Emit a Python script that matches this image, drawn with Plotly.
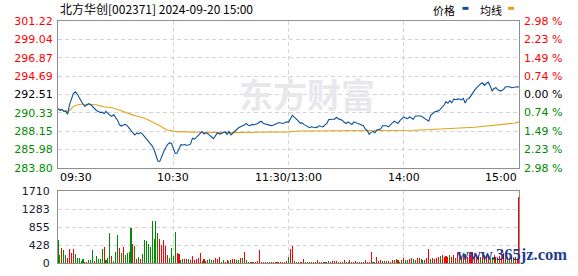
import plotly.graph_objects as go

prev_close = 292.51

price = [
    290.79, 290.62, 290.72, 290.48, 290.55, 290.14, 291.30, 292.05, 292.60, 292.81,
    292.55, 292.15, 291.70, 291.37, 291.10, 291.25, 291.40, 291.30, 291.05, 290.79,
    290.60, 290.49, 290.35, 290.40, 290.21, 290.49, 290.25, 290.02, 289.90, 290.10,
    289.75, 289.45, 288.90, 288.75, 288.87, 288.95, 288.80, 288.47, 288.15, 287.95,
    287.70, 287.90, 287.85, 287.97, 287.80, 287.51, 287.15, 286.93, 286.70, 286.40,
    285.97, 285.35, 284.60, 284.55, 285.20, 285.70, 286.15, 286.55, 286.75, 286.70,
    286.15, 285.50, 285.55, 286.10, 286.55, 286.50, 286.55, 286.45, 286.55, 286.60,
    287.31, 287.20, 287.40, 287.60, 287.80, 288.09, 287.80, 287.95, 287.85, 287.70,
    287.45, 287.24, 287.60, 287.97, 287.80, 287.85, 288.00, 288.09, 287.75, 288.09,
    287.70, 287.90, 288.17, 288.40, 288.55, 288.66, 288.75, 288.87, 289.06, 288.85,
    288.80, 288.95, 288.90, 288.95, 289.05, 289.25, 289.30, 289.05, 289.00, 288.90,
    288.87, 288.80, 288.85, 289.00, 289.06, 289.17, 289.10, 289.06, 289.15, 289.25,
    289.20, 289.55, 290.02, 289.80, 289.63, 289.40, 289.10, 289.13, 288.95, 288.78,
    288.65, 288.55, 288.66, 288.60, 288.55, 288.62, 288.78, 288.70, 288.66, 288.90,
    289.10, 289.52, 289.50, 289.56, 289.56, 289.79, 289.60, 289.56, 289.44, 289.20,
    289.05, 289.25, 289.10, 288.94, 289.25, 289.15, 289.06, 288.94, 288.90, 288.78,
    288.40, 288.20, 287.77, 288.00, 288.10, 287.95, 288.28, 288.35, 288.40, 288.78,
    288.75, 288.78, 288.66, 288.85, 289.10, 289.33, 289.20, 289.06, 289.40, 289.60,
    289.83, 289.70, 289.63, 289.83, 289.70, 289.56, 289.94, 289.90, 289.94, 289.94,
    289.80, 289.56, 289.45, 289.33, 290.02, 290.25, 290.41, 290.49, 290.55, 290.72,
    290.95, 291.25, 291.64, 291.45, 291.76, 291.50, 291.95, 291.90, 291.95, 291.95,
    291.85, 292.03, 291.49, 291.95, 292.03, 292.40, 292.73, 293.04, 293.30, 293.57,
    293.75, 293.88, 293.57, 293.80, 293.96, 293.50, 292.92, 293.20, 293.30, 293.05,
    292.92, 292.95, 293.10, 293.42, 293.40, 293.42, 293.30, 293.35, 293.35, 293.42,
    293.38,
]

avg_price = [
    290.79, 290.70, 290.65, 290.60, 290.55, 290.49, 290.60, 290.85, 291.05, 291.20,
    291.27, 291.30, 291.33, 291.33, 291.33, 291.33, 291.32, 291.32, 291.31, 291.30,
    291.28, 291.20, 291.12, 291.08, 291.05, 291.02, 291.00, 290.99, 290.93, 290.86,
    290.80, 290.72, 290.62, 290.55, 290.49, 290.40, 290.30, 290.22, 290.12, 290.05,
    290.00, 289.95, 289.90, 289.85, 289.78, 289.68, 289.58, 289.48, 289.38, 289.28,
    289.15, 289.02, 288.90, 288.78, 288.62, 288.46, 288.36, 288.28, 288.22, 288.18,
    288.12, 288.10, 288.09, 288.08, 288.07, 288.06, 288.05, 288.03, 288.01, 287.99,
    287.98, 287.98, 287.98, 287.98, 287.98, 287.98, 287.98, 287.98, 287.98, 287.98,
    287.97, 287.97, 287.97, 287.97, 287.97, 287.97, 287.97, 287.97, 287.97, 287.97,
    287.97, 287.97, 287.97, 287.97, 287.98, 287.98, 287.98, 287.98, 287.99, 287.99,
    287.99, 288.00, 288.00, 288.00, 288.01, 288.01, 288.02, 288.02, 288.02, 288.03,
    288.03, 288.03, 288.04, 288.04, 288.04, 288.05, 288.05, 288.05, 288.06, 288.06,
    288.06, 288.08, 288.11, 288.13, 288.14, 288.15, 288.16, 288.16, 288.16, 288.16,
    288.16, 288.16, 288.16, 288.16, 288.16, 288.16, 288.16, 288.16, 288.16, 288.16,
    288.17, 288.17, 288.17, 288.17, 288.17, 288.17, 288.17, 288.17, 288.17, 288.17,
    288.17, 288.17, 288.17, 288.17, 288.17, 288.17, 288.17, 288.17, 288.17, 288.17,
    288.17, 288.17, 288.17, 288.17, 288.17, 288.17, 288.17, 288.17, 288.17, 288.17,
    288.17, 288.17, 288.18, 288.18, 288.19, 288.19, 288.20, 288.20, 288.21, 288.21,
    288.22, 288.22, 288.23, 288.23, 288.24, 288.25, 288.26, 288.27, 288.28, 288.28,
    288.29, 288.29, 288.30, 288.30, 288.31, 288.32, 288.33, 288.34, 288.35, 288.36,
    288.37, 288.38, 288.40, 288.41, 288.42, 288.44, 288.45, 288.46, 288.48, 288.49,
    288.50, 288.52, 288.53, 288.54, 288.55, 288.57, 288.59, 288.61, 288.63, 288.65,
    288.67, 288.69, 288.72, 288.75, 288.78, 288.80, 288.83, 288.86, 288.89, 288.92,
    288.94, 288.96, 288.98, 289.00, 289.02, 289.04, 289.06, 289.08, 289.11, 289.14,
    289.25,
]

volume = [
    554, 192, 346, 300, 192, 115, 323, 231, 323, 208,
    115, 115, 54, 92, 23, 23, 69, 69, 300, 54,
    161, 85, 100, 323, 369, 77, 115, 716, 161, 54,
    254, 670, 346, 231, 369, 192, 231, 254, 831, 447,
    416, 92, 138, 92, 208, 554, 531, 462, 369, 993,
    577, 993, 716, 577, 439, 554, 393, 192, 115, 346,
    161, 739, 231, 208, 69, 92, 92, 92, 92, 69,
    161, 69, 92, 115, 231, 54, 92, 38, 69, 92,
    69, 69, 115, 92, 138, 23, 69, 23, 69, 38,
    69,
    92, 92, 77, 62, 108, 115, 270, 77, 31, 31,
    31, 31, 23, 46, 300, 31, 23, 31, 23, 31,
    23, 23, 31, 23, 23, 31, 23, 31, 38, 154,
    323, 408, 38, 23, 23, 31, 23, 92, 23, 31,
    23, 23, 31, 23, 62, 23, 31, 23, 23, 31,
    46, 23, 46, 46, 46, 31, 23, 31, 77, 23,
    31, 62, 23, 31, 46, 23, 31, 23, 31, 62,
    23, 31, 262, 23, 31, 154, 46, 62, 46, 46,
    38, 46, 31, 77, 77, 92, 62, 31, 77, 108,
    77, 62, 92, 108, 92, 77, 123, 123, 92, 77,
    62, 108, 323, 92, 108, 92, 123, 139, 169, 185,
    154, 169, 139, 185,
    154, 200, 123, 231, 169, 139, 185, 216, 154, 246,
    185, 262, 231, 200, 185, 154, 216, 139, 185, 169,
    123, 154, 200, 139, 123, 169, 154, 231, 185, 139,
    123, 154, 108, 139, 92,
    1580,
]

# r = up minute (red), g = down minute (green)
vol_dir = list(
    "ggrggrrrrg" "ggggrrgggr" "ggggrgggrg" "ggrgrggggr" "grgrgggggg"
    "gggrrrrrgg" "ggrrggrrgr" "rrrrrgrgrg" "ggrrrggrrg" "r"
    "rrggrgrgrr" "grrrrrgrrg" "rrgrrrgrrg"
    "rrgrrgrrgr" "grgrrgrgrg" "grrrrgrgrg"
    "grgrrgrgrr" "grrggrrrgr" "grgrrgrggr"
    "ggrrggrrgg" "rrrgrrrrgr" "rrrg"
    "rrgrrgrgrr" "rrrrrgrgrr" "ggrrgrrrrg" "grgrr"
    "r"
)

price_ticks = [301.22, 299.04, 296.87, 294.69, 292.51, 290.33, 288.15, 285.98, 283.80]
pct_ticks = [2.98, 2.23, 1.49, 0.74, 0.00, -0.74, -1.49, -2.23, -2.98]
vol_ticks = [0, 428, 855, 1283, 1710]
time_pos = [0, 60, 120, 180, 240]
time_labels = ["09:30", "10:30", "11:30/13:00", "14:00", "15:00"]
title_text = "北方华创[002371] 2024-09-20 15:00"

RED = "#ff0000"
GREEN = "#008c00"
BLUE = "#0b4f9f"
GOLD = "#e3a21a"
FONT = "DejaVu Sans"

minutes = list(range(len(price)))
pct = [(p / prev_close - 1) * 100 for p in price]


def col(v, ref):
    if v > ref + 1e-9:
        return RED
    if v < ref - 1e-9:
        return GREEN
    return "#000000"


price_text = ['<span style="color:%s">%.2f</span>' % (col(v, prev_close), v) for v in price_ticks]
pct_text = ['<span style="color:%s">%.2f %%</span>' % (col(v, 0), abs(v)) for v in pct_ticks]
bar_colors = [RED if d == "r" else GREEN for d in vol_dir]

fig = go.Figure()
fig.add_trace(go.Scatter(x=minutes, y=avg_price, mode="lines",
                         line=dict(color=GOLD, width=1.1), xaxis="x", yaxis="y",
                         hoverinfo="skip", showlegend=False))
fig.add_trace(go.Scatter(x=minutes, y=price, mode="lines",
                         line=dict(color=BLUE, width=1.1), xaxis="x", yaxis="y",
                         hoverinfo="skip", showlegend=False))
fig.add_trace(go.Scatter(x=minutes, y=pct, mode="lines",
                         line=dict(color="rgba(0,0,0,0)", width=0), xaxis="x", yaxis="y2",
                         hoverinfo="skip", showlegend=False))
fig.add_trace(go.Bar(x=minutes, y=volume, marker=dict(color=bar_colors, line=dict(width=0)),
                     width=0.55, xaxis="x2", yaxis="y3", hoverinfo="skip", showlegend=False))

W, H = 578, 276
ML, MR, MT, MB = 58, 59, 21, 6
PW = W - ML - MR
PH = H - MT - MB


def py(pix):
    return (H - MB - pix) / PH


def px(pix):
    return (pix - ML) / PW


main_dom = [py(172), 1]
vol_dom = [0, py(196)]

axis_common = dict(showline=True, mirror=True, linecolor="#8f8f8f", linewidth=1,
                   zeroline=False, ticks="", fixedrange=True)
grid = dict(showgrid=True, gridcolor="#d4d4d4", gridwidth=1, griddash="4px,3px")

fig.update_layout(
    width=W, height=H,
    margin=dict(l=ML, r=MR, t=MT, b=MB),
    paper_bgcolor="white", plot_bgcolor="white",
    bargap=0,
    xaxis=dict(domain=[0, 1], range=[0, 240], anchor="y", tickvals=[60, 120, 180],
               showticklabels=False, **grid, **axis_common),
    xaxis2=dict(domain=[0, 1], range=[0, 240], anchor="y3", tickvals=[60, 120, 180],
                showticklabels=False, **grid, **axis_common),
    yaxis=dict(domain=main_dom, range=[price_ticks[-1], price_ticks[0]], anchor="x",
               tickvals=price_ticks, ticktext=price_text,
               tickfont=dict(family=FONT, size=11), ticklabelstandoff=2,
               **grid, **axis_common),
    yaxis2=dict(domain=main_dom, range=[pct_ticks[-1], pct_ticks[0]], overlaying="y",
                side="right", anchor="x", tickvals=pct_ticks, ticktext=pct_text,
                tickfont=dict(family=FONT, size=11), showgrid=False, zeroline=False,
                ticks="", showline=False, ticklabelstandoff=4),
    yaxis3=dict(domain=vol_dom, range=[0, vol_ticks[-1]], anchor="x2",
                tickvals=vol_ticks, tickfont=dict(family=FONT, size=11, color="#1a1a2e"),
                ticklabelstandoff=5, **grid, **axis_common),
)

annotations = []
annotations.append(dict(text=title_text, xref="paper", yref="paper", x=0, y=py(8.5),
                        xanchor="left", yanchor="middle", showarrow=False,
                        font=dict(family="Noto Sans CJK SC", size=12, color="#000")))
annotations.append(dict(text="价格", xref="paper", yref="paper", x=px(431), y=py(9.5),
                        xanchor="left", yanchor="middle", showarrow=False,
                        font=dict(family="Noto Sans CJK SC", size=11, color="#000")))
annotations.append(dict(text="均线", xref="paper", yref="paper", x=px(477.5), y=py(9.5),
                        xanchor="left", yanchor="middle", showarrow=False,
                        font=dict(family="Noto Sans CJK SC", size=11, color="#000")))
for pos, lab in zip(time_pos, time_labels):
    anchor = "left" if pos == time_pos[0] else ("right" if pos == time_pos[-1] else "center")
    annotations.append(dict(text=lab, xref="x", yref="paper", x=pos, y=py(182),
                            xanchor=anchor, yanchor="middle", showarrow=False,
                            font=dict(family=FONT, size=11, color="#000")))
annotations.append(dict(text="<b>东方财富</b>", xref="paper", yref="paper", x=px(307), y=py(96),
                        xanchor="center", yanchor="middle", showarrow=False,
                        font=dict(family="Noto Sans CJK SC", size=34, color="#e8e8ec")))
annotations.append(dict(text="<b>www.365jz.com</b>", xref="paper", yref="paper", x=px(455),
                        y=py(261), xanchor="left", yanchor="middle", showarrow=False,
                        font=dict(family="Liberation Serif", size=16.5, color="#1f3d8c")))
fig.update_layout(annotations=annotations)

shapes = [
    dict(type="rect", xref="paper", yref="paper", x0=px(462.5), x1=px(468.5),
         y0=py(9.5), y1=py(6.5), fillcolor=BLUE, line=dict(width=0)),
    dict(type="rect", xref="paper", yref="paper", x0=px(508), x1=px(514),
         y0=py(9.5), y1=py(6.5), fillcolor=GOLD, line=dict(width=0)),
]
fig.update_layout(shapes=shapes)

fig.write_html("out.html", config={"displayModeBar": False, "staticPlot": True})
